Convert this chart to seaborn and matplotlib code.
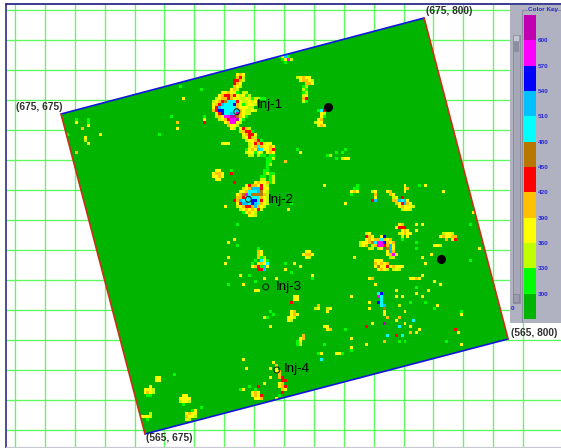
import numpy as np
import matplotlib
matplotlib.use("Agg")
import matplotlib.pyplot as plt
from matplotlib.colors import ListedColormap
from matplotlib.patches import Polygon, Rectangle
import seaborn as sns

sns.set_theme(style="white")
plt.rcParams['font.family'] = ['Liberation Sans', 'DejaVu Sans']

# colour key, bottom to top
key_colors = ['#00b400', '#00ff00', '#c0ff00', '#ffff00', '#ffc000', '#ff0000',
              '#b87800', '#00ffff', '#00c0ff', '#0000ff', '#ff00ff', '#c000b0']
key_labels = ['600', '570', '540', '510', '480', '450', '420', '390', '360', '330', '300']
key_values = [285, 315, 345, 375, 405, 435, 465, 495, 525, 555, 585, 615]
codes = dict(zip('.glyorbcsBmp', key_values))

# map corners: top left, top right, bottom right, bottom left (grid cells)
corner_cols = [15.4, 136.9, 165.0, 43.5]
corner_rows = [34.67, 2.67, 109.67, 141.33]
corner_text = ['(675, 675)', '(675, 800)', '(565, 800)', '(565, 675)']
corner_text_cols = [0.3, 137.4, 166.0, 44.0]
corner_text_rows = [32.3, 0.2, 107.6, 142.7]

inj_names = ['Inj-1', 'Inj-2', 'Inj-3', 'Inj-4']
inj_cols = [74.2, 78.1, 83.9, 87.6]
inj_rows = [33.9, 63.1, 92.3, 120.0]
inj_text_cols = [81.0, 84.7, 87.2, 90.0]
inj_text_rows = [31.7, 63.3, 92.2, 119.7]
prod_cols = [104.75, 142.5]
prod_rows = [32.3, 83.0]

inj1 = ["..........yoy", "..........orl", ".........rrol", ".........roy", ".........oyl",
        "........yol", ".....yyoyyg.ll", "....yorrorylygl", "...lyooroyyllylgllgg",
        "..lyorbcccryllyly", "..yorscccBoyglyyl", "..yrscccccoyyyll", "..orBBccccsoyllyl",
        "...yrBccscpoyll", "...loymmppboyg", "....lyormmpyg", "......yommyl", ".......oyyl",
        "........yl"]
tail = ["yrol", "lorrg", ".yorry", ".lyrol", "..lyyorg", "...lyrorlyy", "...lyocoyyoy",
        "..gyoyscyyor", "..lyygyl.yoy", "...ll.lgg.lr", ".........gly", ".........gg"]
stem = ["...gg", "...gl", "..gg", "..gl", "..g", ".gg", ".gl", "gg", "ll"]
inj2 = ["..g...........g", "..r............gg", "...............gl", "...............gl",
        "...r......yoyyogl", ".......yrooyryl", "......lyosssryy", ".....yyocccsbyl",
        "....yobmcbbbbol", "....oorcscccoyl", "...roscccBBcryl", "....yrsscBscoyl",
        "y...lyorrosoyl", ".....lyoyoyrl", "......gyoyl", "........yyl"]
blob_a = [".yy", "yooy", "yyoy", ".yy"]
top_edge = ["gysg", ".gyml", "..g"]
north = ["lyoyy", ".yooyl", "...ooy", "..gl", "..lg", "..gl", "..ly", "..or", "..lg"]
north_b = [".gcr", "..yl", "..yg", ".yo", "lyy", ".yoy"]
east_a = ["......g", "...g.g", "gl", "...g.lyy"]
ring_a = ["ly", ".o", ".y", "rs"]
ring_b = ["yo", ".oy", "..ly.r", "..ooscsy", "...oyrsoy", "....yoyyyl", ".....lyyl"]
ring_c = [".yo", "yrrr", "..yoy", ".lyoyy", "..l.y", "..g"]
ring_d = ["..ly", "..roy..yB", "..yoyoocs", "lyyobcmmB", "lyo.lommrr", "...ll.ly"]
ring_e = ["oyo", ".oyo", ".osy", ".bsy", ".yso", ".yomy", "..ll"]
ring_f = ["yyy", "oyoyo", "ybyyrl", ".yoyl"]
ring_g = ["yoyyy", ".lyl"]
ring_h = ["yyoy"]
well_e = [".lyyl", "yoyyoo", "..o.yr"]
well_f = ["yyl"]
ne_a = ["..g", ".gg", "yo", "g"]
ne_b = ["y", "yo", "y"]
south_a = ["cB", "mc", ".c", "Bc", ".cs", "..b", "..y", "..y", "...o"]
inj3_a = ["..g", "..oy", "..oy", "..ogl", ".g.cyg", "g.yoyc", "yorgsy", "..rrs"]
inj3_b = [".yy", "yooy", ".yl"]
inj3_c = [".yy", ".yy", "r"]
inj3_d = [".yo", ".yoy", "yyl", "yl"]
inj3_e = [".o", "ly"]
inj3_f = ["ly", "y"]
inj3_g = ["yy", ".yo"]
inj3_h = ["..o", ".yo", "gy", "gl"]
inj4_a = ["y", ".o", ".y", ".yo", "..o", "..or", "...rr", "..yo", "..yor", "...oy", "...r"]
inj4_b = [".g", "yoy", "yoyr", ".yyo"]
sw_a = ["yy", "yy"]
sw_b = ["..y", "yyyl", "yoyl", ".gg"]
sw_c = [".yy", "yyyy", "lyyl", ".g"]
sw_d = ["..gy", "yoyy", "oyyl", "yl"]
sw_e = ["...l", "yyyl", "..g"]

patch_list = [(64, 21, inj1), (75, 39, tail), (82, 48, stem), (70, 53, inj2), (66, 53, blob_a),
              (88, 15, top_edge), (94, 22, north), (100, 33, north_b), (104, 46, east_a),
              (119, 60, ring_a), (124, 60, ring_b), (127, 71, ring_c), (115, 74, ring_d),
              (123, 76, ring_e), (120, 83, ring_f), (125, 85, ring_g), (132, 89, ring_h),
              (142, 74, well_e), (140, 78, well_f), (112, 58, ne_a), (130, 58, ne_b),
              (121, 94, south_a), (79, 79, inj3_a), (96, 80, inj3_b), (92, 95, inj3_c),
              (91, 100, inj3_d), (100, 98, inj3_e), (104, 99, inj3_f), (103, 105, inj3_g),
              (94, 108, inj3_h), (86, 117, inj4_a), (79, 126, inj4_b), (47, 122, sw_a),
              (43, 125, sw_b), (55, 128, sw_c), (57, 133, sw_d), (42, 134, sw_e)]

# lone cells
single_cols = [113, 134, 134, 134, 137, 139, 136, 140, 142, 138, 136, 134, 136, 137, 134, 141, 140,
               112, 118, 119, 120, 127, 127, 129, 132, 128, 130, 128, 130, 133, 135, 134, 132, 129,
               127, 124, 123, 119, 117, 118, 118, 123, 127, 128, 132, 149, 149, 147, 148, 112, 112,
               117, 110, 128, 130, 144, 149, 143, 153, 152, 152, 155, 134, 136, 135, 137,
               20, 20, 24, 24, 24, 22, 17, 28, 23, 23, 24, 20, 48, 52, 55, 56, 54, 54,
               69, 70, 71, 63, 63, 63, 62, 74, 74, 73, 71, 103, 110, 114, 92, 91, 90, 95, 94,
               75, 78, 76, 80, 80, 83, 81, 71, 71, 70, 87, 90, 90, 92, 93, 95, 99, 99,
               85, 84, 86, 85, 83, 76, 77, 102, 103, 107, 108, 109, 102, 112, 112, 101,
               85, 81, 87, 88, 85, 83, 75, 78, 76, 62, 52, 53, 54, 58, 46, 41]
single_rows = [82, 79, 73, 77, 84, 81, 82, 90, 91, 93, 88, 92, 95, 97, 94, 98, 99,
               95, 89, 89, 91, 93, 95, 95, 97, 98, 100, 102, 104, 103, 106, 107, 107, 108,
               108, 108, 110, 104, 105, 99, 97, 104, 103, 105, 105, 100, 101, 106, 107, 109, 113,
               111, 106, 110, 110, 110, 111, 60, 67, 71, 83, 79, 71, 71, 58, 58,
               36, 37, 36, 37, 38, 39, 41, 41, 42, 43, 44, 47, 41, 35, 25, 29, 37, 39,
               44, 44, 44, 35, 36, 37, 26, 71, 78, 76, 91, 58, 64, 60, 64, 66, 50, 47, 46,
               88, 88, 91, 90, 93, 89, 93, 77, 82, 84, 89, 84, 86, 87, 84, 85, 88, 89,
               100, 102, 101, 105, 102, 116, 119, 114, 111, 114, 114, 114, 116, 109, 112, 114,
               119, 125, 129, 128, 122, 124, 126, 125, 126, 132, 139, 121, 121, 121, 131, 131]
single_codes = ("ygygyyyyyyygygyyg" "yyoyyyyglyoycyyocrc" "oyryypycygyrygg" "yggggyyyggyyyg"
                "ygyggyogyylyoggg" "yoyyyygyrgggygyyyg" "yoygygygyyyyyyygyg" "yyyggggyyyyygyyg"
                "cyygyrygyyggyggg")


def build_map(n_rows, n_cols):
    grid = np.full((n_rows, n_cols), float(key_values[0]))
    n = min(len(single_cols), len(single_rows), len(single_codes))
    for i in range(n):
        grid[single_rows[i], single_cols[i]] = codes[single_codes[i]]
    for col0, row0, rows in patch_list:
        for dr, line in enumerate(rows):
            for dc, ch in enumerate(line):
                if ch != '.':
                    grid[row0 + dr, col0 + dc] = codes[ch]
    return grid


cmap = ListedColormap(key_colors)
fig = plt.figure(figsize=(5.61, 4.48), dpi=100, facecolor='white')
ax = fig.add_axes([0, 0, 1, 1])

sns.heatmap(build_map(146, 170), cmap=cmap, vmin=270, vmax=630, cbar=False,
            xticklabels=False, yticklabels=False, ax=ax)
ax.set_xlim(-5.02, 182.7)
ax.set_ylim(146, -3.33)
ax.axis('off')

field = Polygon(np.column_stack([corner_cols, corner_rows]), transform=ax.transData)
ax.collections[0].set_clip_path(field)

# background lattice
line_green = '#5cfa5c'
ax.vlines(np.arange(0, 180, 10), -2, 146, color=line_green, lw=0.95, zorder=0.5)
ax.hlines(np.arange(0, 150, 10), -3, 183, color=line_green, lw=0.95, zorder=0.5)
ax.plot([-3, -3], [-2, 146], color='#1a1a80', lw=1.1, zorder=0.6)
ax.plot([-3, 183], [-2, -2], color='#1a1a80', lw=1.2, zorder=3)
ax.plot([-3, 183], [145.7, 145.7], color='#c8c8d0', lw=0.9, zorder=0.6)

# map outline
for a, b, col in [(0, 1, '#1414e0'), (3, 2, '#1414e0'), (0, 3, '#c83214'), (1, 2, '#c83214')]:
    ax.plot([corner_cols[a], corner_cols[b]], [corner_rows[a], corner_rows[b]],
            color=col, lw=1.2, zorder=2)

# wells
ax.scatter(prod_cols, prod_rows, s=30, color='black', zorder=4)
ax.scatter(inj_cols, inj_rows, s=18, facecolors='none', edgecolors='#103010', linewidths=0.8, zorder=4)
for name, c, r in zip(inj_names, inj_text_cols, inj_text_rows):
    ax.text(c, r, name, fontsize=9.6, color='black', va='center', ha='left', zorder=5)
for label, c, r in zip(corner_text, corner_text_cols, corner_text_rows):
    ax.text(c, r, label, fontsize=7.3, fontweight='bold', color='#303030', va='center', ha='left', zorder=5)

# side panel, in picture pixels
W, H = 561, 448
panel = fig.add_axes([510 / W, 1 - 323 / H, 51 / W, 318 / H], facecolor='#b0b2c2')
panel.set_xlim(510, 561)
panel.set_ylim(323, 5)
panel.set_xticks([])
panel.set_yticks([])
for s in panel.spines.values():
    s.set_visible(False)
panel.plot([522, 522, 527], [323, 10, 10], color='#8c8e9e', lw=0.8)
panel.plot([548, 561], [10, 10], color='#8c8e9e', lw=0.8)
panel.add_patch(Rectangle((513, 35), 7, 268, facecolor='#a6a8b8', edgecolor='#8c8e9e', lw=0.7))
panel.add_patch(Rectangle((513, 41), 6, 11, facecolor='#8c8e9e', edgecolor='none'))
panel.add_patch(Rectangle((513, 35), 6, 6, facecolor='#c4c6d2', edgecolor='#8c8e9e', lw=0.5))
panel.add_patch(Rectangle((513, 294), 6, 8, facecolor='#9a9cac', edgecolor='#7c7e8e', lw=0.5))
panel.text(528, 9.5, 'Color Key', fontsize=4.6, fontweight='bold', color='#2828d8', va='center', ha='left')
panel.text(511, 308, '0', fontsize=4.6, fontweight='bold', color='#2828d8', va='center', ha='left')

key_ax = fig.add_axes([524.3 / W, 1 - 319 / H, 11.7 / W, 304 / H], zorder=3)
sns.heatmap(np.array(key_values[::-1]).reshape(-1, 1), cmap=cmap, vmin=270, vmax=630, cbar=False,
            xticklabels=False, yticklabels=key_labels, ax=key_ax)
key_ax.set_yticks(np.arange(1, 12))
key_ax.set_yticklabels(key_labels, rotation=0, fontsize=4.6, fontweight='bold', color='#2828d8')
key_ax.yaxis.tick_right()
key_ax.tick_params(axis='y', length=0, pad=1.5)

fig.savefig('out.png', dpi=100)
